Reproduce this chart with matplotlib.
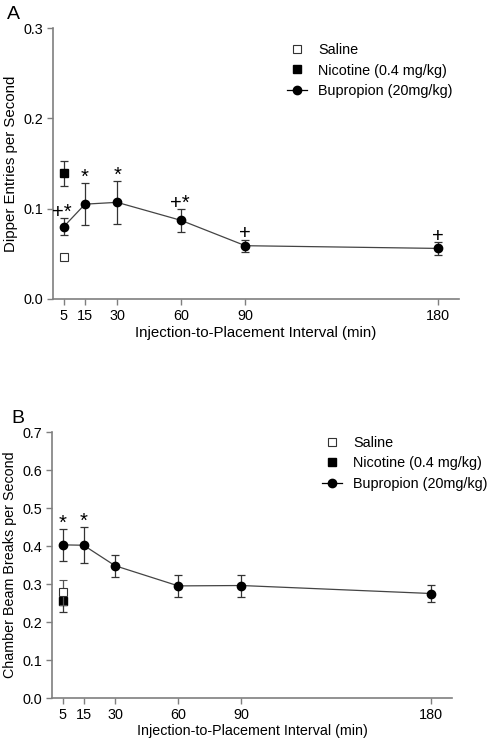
import matplotlib
matplotlib.use("Agg")
import matplotlib.pyplot as plt
from matplotlib.lines import Line2D

plt.rcParams['font.family'] = ['Liberation Sans', 'DejaVu Sans']

# ---- data ----
intervals = [5, 15, 30, 60, 90, 180]
xtick_labels = ['5', '15', '30', '60', '90', '180']

# Panel A: dipper entries per second
a_bup = [0.080, 0.105, 0.107, 0.087, 0.059, 0.056]
a_bup_err = [0.0095, 0.023, 0.0235, 0.0125, 0.0065, 0.007]
a_sal = 0.047
a_sal_err = 0.002
a_nic = 0.139
a_nic_err = 0.014
a_marks = ['+*', '*', '*', '+*', '+', '+']

# Panel B: chamber beam breaks per second
b_bup = [0.403, 0.402, 0.348, 0.295, 0.296, 0.275]
b_bup_err = [0.042, 0.048, 0.029, 0.029, 0.029, 0.023]
b_sal = 0.278
b_sal_err = 0.033
b_nic = 0.254
b_nic_err = 0.027
b_marks = ['*', '*', '', '', '', '']

W, H = 491, 744
fig = plt.figure(figsize=(W / 100, H / 100), dpi=100)

GREY = '#7f7f7f'
TICK_FS = 10.4
LEG_FS = 10.4


def px_axes(l, t, r, b):
    return fig.add_axes([l / W, 1 - b / H, (r - l) / W, (b - t) / H])


def panel(ax, bup, bup_err, sal, sal_err, nic, nic_err, marks, ylim, yticks,
          ylabel, leg_xy, lab_fs):
    ax.errorbar(intervals, bup, yerr=bup_err, fmt='o', color='black',
                ecolor='#333333', elinewidth=0.9, capsize=3, capthick=0.9,
                markersize=6, zorder=3)
    ax.plot(intervals, bup, '-', color='#444444', lw=0.9, zorder=2)
    ax.errorbar([5], [nic], yerr=[nic_err], fmt='s', color='black',
                ecolor='#333333', elinewidth=0.9, capsize=3, capthick=0.9,
                markersize=5.5, zorder=3)
    ax.errorbar([5], [sal], yerr=[sal_err], fmt='s', mfc='white', mec='#333333',
                mew=0.8, ecolor='#555555', elinewidth=0.9, capsize=3,
                capthick=0.9, markersize=5.5, zorder=4)
    for x, y, e, m in zip(intervals, bup, bup_err, marks):
        if m:
            ax.annotate(m, (x, y + e), xytext=(-1 if len(m) > 1 else 0, 0.3),
                        textcoords='offset points', ha='center',
                        va='baseline', fontsize=14.5)
    ax.set_xlim(0, 190)
    ax.set_ylim(*ylim)
    ax.set_xticks(intervals)
    ax.set_xticklabels(xtick_labels)
    ax.set_yticks(yticks)
    ax.set_yticklabels([f'{v:.1f}' for v in yticks])
    ax.spines['top'].set_visible(False)
    ax.spines['right'].set_visible(False)
    for s in ('left', 'bottom'):
        ax.spines[s].set_color(GREY)
        ax.spines[s].set_linewidth(1.2)
    ax.tick_params(axis='both', colors=GREY, labelcolor='black',
                   labelsize=TICK_FS, length=4, width=1, pad=3)
    ax.set_xlabel('Injection-to-Placement Interval (min)', fontsize=lab_fs,
                  labelpad=2)
    ax.set_ylabel(ylabel, fontsize=lab_fs, labelpad=4)

    handles = [
        Line2D([], [], marker='s', ls='none', mfc='white', mec='#333333',
               mew=0.8, markersize=5.5),
        Line2D([], [], marker='s', ls='none', color='black', markersize=5.5),
        Line2D([], [], marker='o', ls='-', color='black', lw=0.9,
               markersize=6),
    ]
    ax.legend(handles, ['Saline', 'Nicotine (0.4 mg/kg)',
                        'Bupropion (20mg/kg)'],
              loc='upper left', bbox_to_anchor=(leg_xy[0] / W, 1 - leg_xy[1] / H),
              bbox_transform=fig.transFigure, frameon=False, fontsize=LEG_FS,
              handlelength=1.35, handletextpad=0.8, labelspacing=0.45,
              borderpad=0, borderaxespad=0)


axA = px_axes(53, 28, 459, 299)
panel(axA, a_bup, a_bup_err, a_sal, a_sal_err, a_nic, a_nic_err, a_marks,
      (0, 0.3), [0.0, 0.1, 0.2, 0.3], 'Dipper Entries per Second', (287, 43),
      10.8)
fig.text(7 / W, 1 - 6 / H, 'A', fontsize=14, ha='left', va='top')

axB = px_axes(52, 432, 452, 698)
panel(axB, b_bup, b_bup_err, b_sal, b_sal_err, b_nic, b_nic_err, b_marks,
      (0, 0.7), [0.0, 0.1, 0.2, 0.3, 0.4, 0.5, 0.6, 0.7],
      'Chamber Beam Breaks per Second', (322, 436), 10.3)
fig.text(11 / W, 1 - 410 / H, 'B', fontsize=14, ha='left', va='top')

fig.savefig('out.png', dpi=100)
